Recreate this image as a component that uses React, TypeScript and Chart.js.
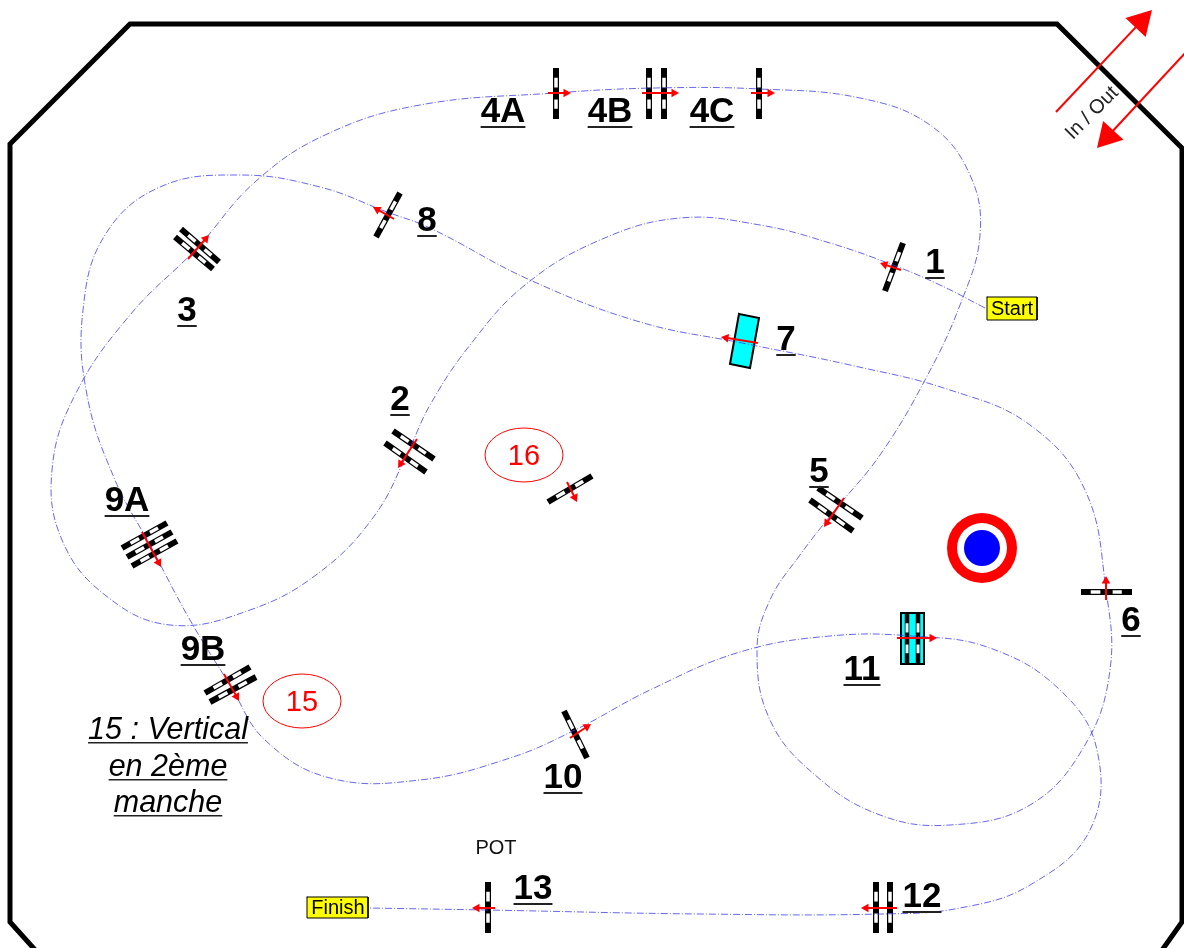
import React, { useEffect, useRef } from "react";
import { Chart, registerables } from "chart.js";

Chart.register(...registerables);

const WIDTH = 1184;
const HEIGHT = 948;

const fenceOutline = [
  [37, 952], [10, 922], [10, 144], [130, 24], [1057, 24], [1182, 148], [1182, 922], [1160, 953],
];

const coursePath = [
  [985, 308], [940, 285], [893, 265], [830, 243], [760, 225], [680, 218], [600, 240], [525, 285],
  [470, 345], [430, 405], [408, 452], [375, 515], [320, 572], [250, 610], [170, 625], [105, 595],
  [62, 540], [52, 470], [75, 395], [130, 315], [197, 248], [255, 182], [325, 135], [420, 105],
  [555, 93], [655, 88], [760, 89], [860, 98], [930, 125], [970, 175], [980, 235], [960, 305],
  [925, 380], [880, 455], [835, 510], [800, 555], [770, 600], [757, 650], [770, 720], [815, 775], [880, 815],
  [950, 825], [1030, 805], [1085, 745], [1110, 670], [1106, 590], [1085, 490], [1030, 425],
  [950, 390], [850, 365], [742, 343], [640, 322], [530, 280], [430, 228], [387, 212], [320, 187],
  [240, 175], [160, 187], [105, 235], [83, 310], [87, 395], [115, 480], [150, 545], [190, 620],
  [230, 685], [265, 740], [330, 778], [420, 780], [510, 758], [575, 730], [650, 690], [740, 652],
  [830, 636], [912, 636], [990, 648], [1060, 690], [1097, 750], [1090, 830], [1030, 885],
  [960, 908], [882, 914], [700, 914], [487, 910], [368, 908],
];

// x1, y1, x2, y2 of every jump rail
const jumpRails = [
  [903, 243, 885, 291], [400, 193, 376, 237],
  [175, 237, 213, 269], [181, 229, 219, 262],
  [385, 443, 426, 472], [393, 431, 434, 459],
  [548, 502, 592, 476],
  [818, 488, 862, 518], [810, 500, 853, 531],
  [1081, 592, 1132, 592],
  [122, 548, 167, 523], [127, 557, 172, 532], [132, 566, 177, 541],
  [205, 693, 250, 667], [210, 702, 256, 677],
  [564, 711, 587, 758],
  [556, 68, 556, 119], [649, 68, 649, 119], [664, 68, 664, 119], [759, 68, 759, 119],
  [876, 882, 876, 933], [890, 882, 890, 933], [488, 882, 488, 933],
];

const waterRects = [
  [[739, 314], [759, 318], [750, 368], [730, 364]],
  [[901, 613], [924, 613], [924, 664], [901, 664]],
];

const waterRails = [
  [907, 614, 907, 663], [918, 614, 918, 663],
];

const labelBoxes = [
  { corners: [[987, 297], [1037, 297], [1037, 320], [987, 320]] },
  { corners: [[307, 897], [368, 897], [368, 918], [307, 918]] },
];

// tailX, tailY, tipX, tipY
const smallArrows = [
  [901, 270, 880, 263], [394, 219, 373, 207], [188, 259, 209, 235], [417, 439, 398, 468],
  [567, 482, 577, 502], [844, 498, 824, 527], [1106, 600, 1106, 576], [758, 343, 721, 337],
  [142, 532, 161, 567], [224, 674, 239, 701], [570, 738, 591, 724], [897, 638, 937, 638],
  [897, 908, 861, 908], [495, 908, 472, 908], [548, 93, 571, 93],
  [642, 93, 679, 93], [751, 93, 775, 93],
];

const bigArrows = [
  [1056, 112, 1152, 10], [1186, 52, 1097, 148],
];

const roundelCentre = [982, 548];
const roundelRadii = [35, 25, 18];
const roundelColors = ["#ff0000", "#ffffff", "#0000ff"];

const ovals = [
  { x: 524, y: 455, text: "16" },
  { x: 302, y: 701, text: "15" },
];

const jumpLabels = [
  { text: "1", x: 935, y: 273 }, { text: "2", x: 400, y: 410 }, { text: "3", x: 187, y: 321 },
  { text: "4A", x: 503, y: 122 }, { text: "4B", x: 610, y: 122 }, { text: "4C", x: 712, y: 122 },
  { text: "5", x: 819, y: 482 }, { text: "6", x: 1131, y: 631 }, { text: "7", x: 786, y: 350 },
  { text: "8", x: 427, y: 231 }, { text: "9A", x: 127, y: 511 }, { text: "9B", x: 203, y: 660 },
  { text: "10", x: 563, y: 788 }, { text: "11", x: 862, y: 680 }, { text: "12", x: 922, y: 907 },
  { text: "13", x: 533, y: 899 },
];

const noteLines = [
  { text: "15 : Vertical", x: 168, y: 739 },
  { text: "en 2ème", x: 168, y: 776 },
  { text: "manche", x: 168, y: 812 },
];

const FONT = '"Liberation Sans", Arial, sans-serif';

function railPart(r: number[], a: number, b: number) {
  const [x1, y1, x2, y2] = r;
  return [
    { x: x1 + (x2 - x1) * a, y: y1 + (y2 - y1) * a },
    { x: x1 + (x2 - x1) * b, y: y1 + (y2 - y1) * b },
  ];
}

function lineSet(data: { x: number; y: number }[], color: string, width: number, extra: object = {}) {
  return {
    data,
    showLine: true,
    borderColor: color,
    borderWidth: width,
    borderCapStyle: "butt",
    pointRadius: 0,
    tension: 0,
    fill: false,
    clip: false,
    ...extra,
  };
}

function polygonSet(corners: number[][], fillColor: string, stroke: string, width: number) {
  const pts = corners.concat([corners[0]]).map(([x, y]) => ({ x, y }));
  return lineSet(pts, stroke, width, { fill: "shape", backgroundColor: fillColor, borderCapStyle: "square" });
}

function arrowSet(a: number[], headRadius: number, width: number) {
  const [tx, ty, hx, hy] = a;
  const len = Math.hypot(hx - tx, hy - ty);
  const ux = (hx - tx) / len;
  const uy = (hy - ty) / len;
  const centre = { x: hx - ux * headRadius, y: hy - uy * headRadius };
  const rotation = (Math.atan2(uy, ux) * 180) / Math.PI + 90;
  return lineSet([{ x: tx, y: ty }, centre], "#ff0000", width, {
    pointRadius: [0, headRadius],
    pointStyle: "triangle",
    pointRotation: [0, rotation],
    pointBackgroundColor: "#ff0000",
    pointBorderColor: "#ff0000",
    pointBorderWidth: 0,
  });
}

const courseText = {
  id: "courseText",
  afterDatasetsDraw(chart: any) {
    const { ctx, scales } = chart;
    const px = (v: number) => scales.x.getPixelForValue(v);
    const py = (v: number) => scales.y.getPixelForValue(v);
    ctx.save();
    ctx.textAlign = "center";
    ctx.textBaseline = "alphabetic";

    const underlined = (text: string, x: number, y: number, font: string, gap: number, thick: number) => {
      ctx.font = font;
      ctx.fillStyle = "#000000";
      ctx.fillText(text, px(x), py(y));
      const w = ctx.measureText(text).width;
      ctx.fillStyle = "#222222";
      ctx.fillRect(px(x) - w / 2, py(y) + gap, w, thick);
    };

    jumpLabels.forEach((l) => underlined(l.text, l.x, l.y, `bold 35px ${FONT}`, 4, 2));
    noteLines.forEach((l) => underlined(l.text, l.x, l.y, `italic 30.5px ${FONT}`, 3, 1.5));

    ctx.fillStyle = "#000000";
    ctx.font = `20px ${FONT}`;
    ctx.fillText("Start", px(1012), py(315));
    ctx.fillText("Finish", px(338), py(914));
    ctx.fillStyle = "#111111";
    ctx.font = `20px ${FONT}`;
    ctx.fillText("POT", px(496), py(854));

    ctx.strokeStyle = "#ff0000";
    ctx.lineWidth = 1;
    ovals.forEach((o) => {
      ctx.beginPath();
      ctx.ellipse(px(o.x), py(o.y), 39, 27, 0, 0, Math.PI * 2);
      ctx.stroke();
      ctx.fillStyle = "#ff0000";
      ctx.font = `29px ${FONT}`;
      ctx.fillText(o.text, px(o.x), py(o.y + 10));
    });

    ctx.translate(px(1091), py(112));
    ctx.rotate(-Math.PI / 4);
    ctx.fillStyle = "#222222";
    ctx.font = `20px ${FONT}`;
    ctx.fillText("In / Out", 0, 7);
    ctx.restore();
  },
};

export default function App() {
  const ref = useRef<HTMLCanvasElement>(null);

  useEffect(() => {
    const sets: any[] = [];
    waterRects.forEach((r) => sets.push(polygonSet(r, "#00ffff", "#000000", 2)));
    const addRails = (rails: number[][], outer: number, inner: number) => {
      rails.forEach((r) => sets.push(lineSet(railPart(r, 0, 1), "#000000", outer)));
      rails.forEach((r) => {
        sets.push(lineSet(railPart(r, 0.19, 0.38), "#ffffff", inner));
        sets.push(lineSet(railPart(r, 0.62, 0.8), "#ffffff", inner));
      });
    };
    addRails(jumpRails, 6, 3.5);
    addRails(waterRails, 4.5, 3);
    sets.push(lineSet(fenceOutline.map(([x, y]) => ({ x, y })), "#000000", 5, { borderJoinStyle: "miter" }));
    labelBoxes.forEach((b) => sets.push(polygonSet(b.corners, "#ffff00", "#000000", 1)));
    sets.push(
      lineSet(coursePath.map(([x, y]) => ({ x, y })), "#4040e8", 0.8, {
        tension: 0.4,
        borderDash: [7, 2, 1, 2],
      })
    );
    smallArrows.forEach((a) => sets.push(arrowSet(a, 5, 2)));
    bigArrows.forEach((a) => sets.push(arrowSet(a, 16, 2)));
    roundelRadii.forEach((r, i) =>
      sets.push({
        data: [{ x: roundelCentre[0], y: roundelCentre[1] }],
        pointRadius: r,
        pointBorderWidth: 0,
        pointBackgroundColor: roundelColors[i],
        showLine: false,
        clip: false,
      })
    );

    const chart = new Chart(ref.current!, {
      type: "scatter",
      data: { datasets: sets.reverse() },
      options: {
        responsive: false,
        animation: false,
        devicePixelRatio: 1,
        events: [],
        layout: { padding: 0, autoPadding: false },
        plugins: { legend: { display: false }, tooltip: { enabled: false }, title: { display: false } },
        scales: {
          x: { type: "linear", min: 0, max: WIDTH, display: false },
          y: { type: "linear", min: 0, max: HEIGHT, reverse: true, display: false },
        },
      },
      plugins: [courseText],
    } as any);
    return () => chart.destroy();
  }, []);

  return (
    <canvas
      ref={ref}
      width={WIDTH}
      height={HEIGHT}
      style={{ position: "fixed", left: 0, top: 0, width: WIDTH, height: HEIGHT, display: "block", background: "#ffffff" }}
    />
  );
}
